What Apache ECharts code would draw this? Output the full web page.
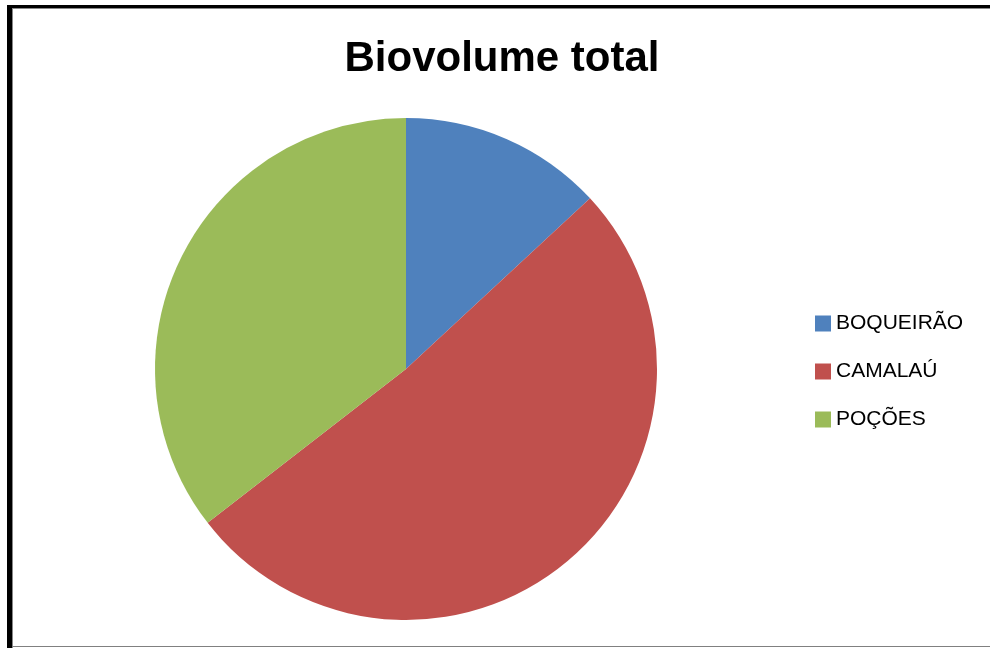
<!DOCTYPE html>
<html>
<head>
<meta charset="utf-8">
<script src="https://cdn.jsdelivr.net/npm/echarts@6/dist/echarts.min.js"></script>
<style>
html,body{margin:0;padding:0;background:#fff;}
#chart{width:990px;height:648px;}
</style>
</head>
<body>
<div id="chart"></div>
<script>
const categories = ['BOQUEIRÃO', 'CAMALAÚ', 'POÇÕES'];
const values = [13.1, 51.4, 35.5];
const colors = ['#4F81BD', '#C0504D', '#9BBB59'];
const titleText = 'Biovolume total';

const chart = echarts.init(document.getElementById('chart'), null, {renderer: 'canvas'});
chart.setOption({
  backgroundColor: '#fff',
  animation: false,
  title: {
    text: titleText,
    left: 502, top: 38,
    textAlign: 'center',
    padding: 0,
    textStyle: {fontFamily: 'Liberation Sans', fontWeight: 'bold', fontSize: 42, color: '#000'}
  },
  legend: {
    orient: 'vertical',
    left: 815, top: 313,
    padding: 0,
    itemWidth: 16, itemHeight: 16,
    itemGap: 27, itemTextGap: 6,
    icon: 'rect',
    textStyle: {fontFamily: 'Liberation Sans', fontSize: 21, lineHeight: 21, color: '#000'},
    data: categories
  },
  graphic: [
    {type: 'rect', shape: {x: 7, y: 5, width: 5, height: 643}, style: {fill: '#000'}, silent: true},
    {type: 'rect', shape: {x: 7, y: 5, width: 990, height: 3}, style: {fill: '#000'}, silent: true},
    {type: 'rect', shape: {x: 12, y: 8, width: 1, height: 640}, style: {fill: '#888'}, silent: true},
    {type: 'rect', shape: {x: 12, y: 8, width: 980, height: 1}, style: {fill: '#888'}, silent: true},
    {type: 'rect', shape: {x: 12, y: 646, width: 980, height: 1}, style: {fill: '#808080'}, silent: true}
  ],
  series: [{
    type: 'pie',
    center: [406, 369],
    radius: 251,
    startAngle: 90,
    clockwise: true,
    label: {show: false},
    labelLine: {show: false},
    emphasis: {disabled: true},
    itemStyle: {borderWidth: 0},
    data: categories.map((c, i) => ({name: c, value: values[i], itemStyle: {color: colors[i]}}))
  }]
});
</script>
</body>
</html>
